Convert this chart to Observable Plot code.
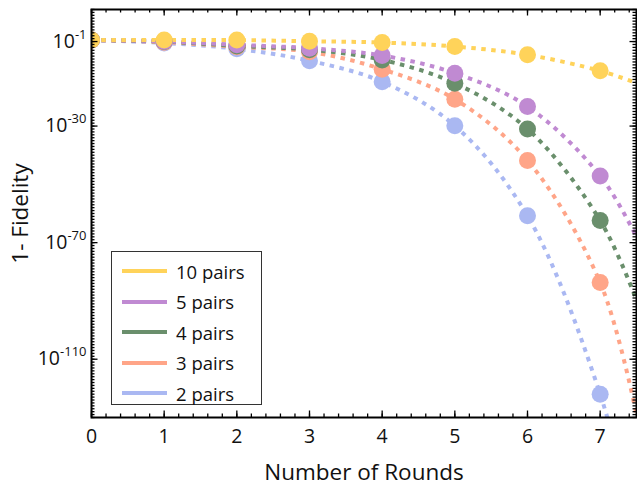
<!DOCTYPE html>
<html><head><meta charset="utf-8">
<script src="https://cdn.jsdelivr.net/npm/d3@7"></script>
<script src="https://cdn.jsdelivr.net/npm/@observablehq/plot@0.6"></script>
<style>
body{margin:0;background:#fff;font-family:"Open Sans",sans-serif;}
#wrap{position:relative;width:637px;height:487px;}
#legend{position:absolute;left:111px;top:251px;width:151px;height:154px;box-sizing:border-box;border:1.5px solid #333;background:#fff;}
.row{position:absolute;left:0;width:148px;height:24px;display:flex;align-items:center;}
.sw{flex:0 0 45px;width:45px;height:4px;margin-left:10px;margin-right:9px;}
.lab{font-size:18.5px;color:#111;white-space:nowrap;}
</style></head><body><div id="wrap"></div>
<script>
// ---- data (log10 of 1 - Fidelity) ----
const rounds = [0, 1, 2, 3, 4, 5, 6, 7];
const edgeRound = 7.5;
const seriesNames = ["10 pairs", "5 pairs", "4 pairs", "3 pairs", "2 pairs"];
const seriesColors = ["#FFD35A", "#C08AD2", "#6A8F6C", "#FFA588", "#AAB8F2"];
const log10Pairs10 = [-0.5, -0.5, -0.5, -0.9, -1.34, -2.7, -5.55, -11.05];
const log10Pairs5  = [-0.5, -0.9, -2.1, -3.3, -5.8, -11.85, -23.3, -47.1];
const log10Pairs4  = [-0.5, -1.0, -2.5, -3.8, -7.3, -15.3, -31.0, -62.4];
const log10Pairs3  = [-0.5, -1.2, -2.8, -4.5, -10.5, -20.8, -41.8, -83.7];
const log10Pairs2  = [-0.5, -1.5, -3.5, -7.6, -14.8, -29.9, -60.8, -122];
const edgeLog10    = [-15.2, -68, -89.7, -129, -170];   // where each dashed curve leaves the frame
const xTicks = [0, 1, 2, 3, 4, 5, 6, 7];
const yTickExponents = [-1, -30, -70, -110];
const xDomain = [0, 7.5];
const yDomainExp = [-130, 10];

const seriesValues = [log10Pairs10, log10Pairs5, log10Pairs4, log10Pairs3, log10Pairs2];

// ---- layout ----
const W = 637, H = 487, mL = 91, mT = 9, mR = 1, mB = 70;
const innerW = W - mL - mR, innerH = H - mT - mB;

const xMinor = d3.range(0, 38).map(i => i / 5).filter(v => v <= 7.5);
const yMinor = d3.range(yDomainExp[0], yDomainExp[1] + 1).map(e => Math.pow(10, e));
const yMajor = yTickExponents.map(e => Math.pow(10, e));

const lineMarks = [], dotMarks = [];
for (let i = seriesNames.length - 1; i >= 0; i--) {
  const pts = rounds.map((r, j) => ({r, v: Math.pow(10, seriesValues[i][j])}));
  const ext = pts.concat([{r: edgeRound, v: Math.pow(10, edgeLog10[i])}]);
  lineMarks.push(Plot.line(ext, {x: "r", y: "v", stroke: seriesColors[i], strokeWidth: 4,
    strokeDasharray: "4.5,5.5", strokeLinecap: "butt", curve: "catmull-rom", clip: true}));
  dotMarks.push(Plot.dot(pts, {x: "r", y: "v", r: 8.5, fill: seriesColors[i], stroke: "none", clip: true}));
}

const tk = {stroke: "black", strokeWidth: 1.3};
const svg = Plot.plot({
  width: W, height: H, marginLeft: mL, marginTop: mT, marginRight: mR, marginBottom: mB,
  style: {fontFamily: "Open Sans", background: "white", color: "#111"},
  x: {domain: xDomain},
  y: {type: "log", domain: [Math.pow(10, yDomainExp[0]), Math.pow(10, yDomainExp[1])]},
  marks: [
    ...lineMarks,
    ...dotMarks,
    // bottom / top ticks
    Plot.tickX(xMinor, {x: d => d, insetTop: innerH - 3.5, ...tk}),
    Plot.tickX(xTicks, {x: d => d, insetTop: innerH - 6.5, ...tk}),
    Plot.tickX(xMinor, {x: d => d, insetBottom: innerH - 3.5, ...tk}),
    Plot.tickX(xTicks, {x: d => d, insetBottom: innerH - 6.5, ...tk}),
    // left / right ticks
    Plot.tickY(yMinor, {y: d => d, insetRight: innerW - 3.5, ...tk}),
    Plot.tickY(yMajor, {y: d => d, insetRight: innerW - 6.5, ...tk}),
    Plot.tickY(yMinor, {y: d => d, insetLeft: innerW - 3.5, ...tk}),
    Plot.tickY(yMajor, {y: d => d, insetLeft: innerW - 6.5, ...tk}),
    Plot.frame({stroke: "black", strokeWidth: 2}),
    Plot.axisX(xTicks, {tickSize: 0, tickPadding: 12, fontSize: 19.5, label: null}),
    Plot.axisY(yMajor, {tickSize: 0, tickPadding: 5, fontSize: 19.5, label: null,
      tickFormat: d => String(Math.round(Math.log10(d)))}),
    Plot.text(["Number of Rounds"], {frameAnchor: "bottom", lineAnchor: "middle", textAnchor: "middle",
      dy: 55, fontSize: 22.5, fill: "#111"}),
    Plot.text(["1- Fidelity"], {frameAnchor: "left", lineAnchor: "middle", textAnchor: "middle",
      dx: -71, rotate: -90, fontSize: 22.5, fill: "#111"})
  ]
});

// superscript exponents on the y tick labels
d3.select(svg).selectAll('g[aria-label="y-axis tick label"] text').each(function () {
  const e = this.textContent;
  const t = d3.select(this);
  t.text("");
  t.append("tspan").text("10");
  t.append("tspan").attr("dy", -9).attr("font-size", 13).text(e);
});

const wrap = document.getElementById("wrap");
wrap.appendChild(svg);

// legend
const legend = document.createElement("div");
legend.id = "legend";
seriesNames.forEach((name, i) => {
  const row = document.createElement("div");
  row.className = "row";
  row.style.top = (7 + i * 30.5) + "px";
  const sw = document.createElement("span");
  sw.className = "sw"; sw.style.background = seriesColors[i];
  const lab = document.createElement("span");
  lab.className = "lab"; lab.textContent = name;
  row.appendChild(sw); row.appendChild(lab);
  legend.appendChild(row);
});
wrap.appendChild(legend);
</script></body></html>
